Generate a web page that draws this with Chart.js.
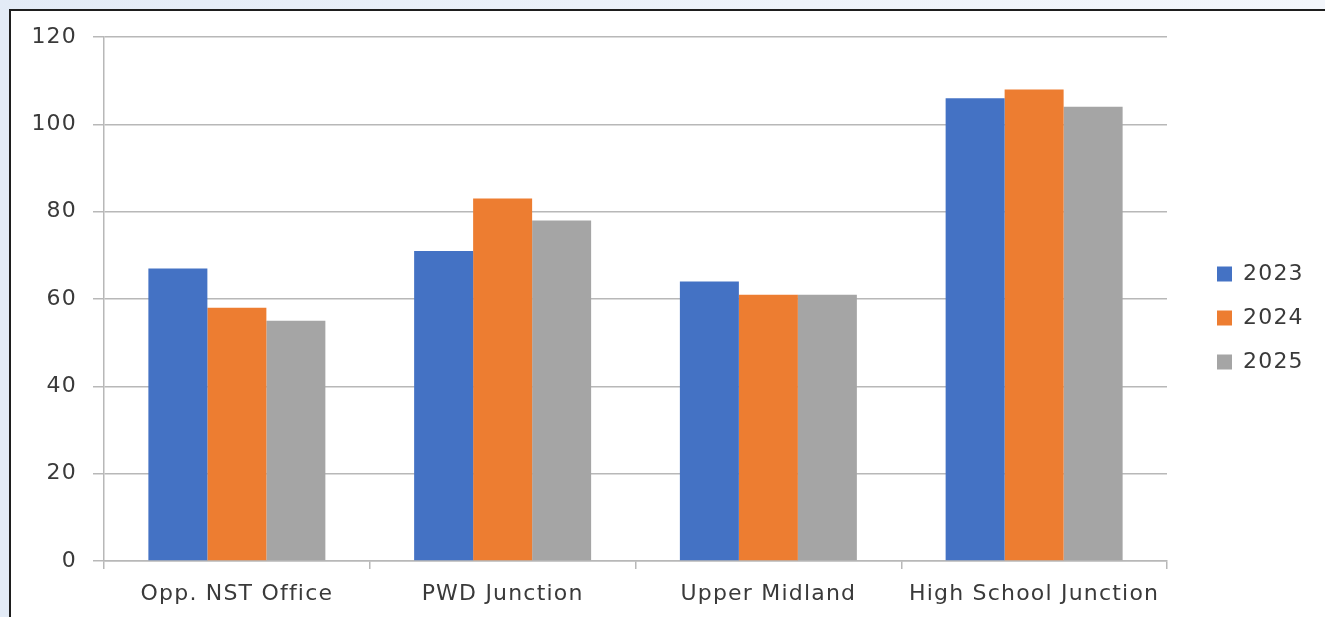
<!DOCTYPE html>
<html>
<head>
<meta charset="utf-8">
<script src="https://cdn.jsdelivr.net/npm/chart.js@4/dist/chart.umd.min.js"></script>
<style>
  html, body { margin: 0; padding: 0; }
  body {
    width: 1325px; height: 617px; overflow: hidden; position: relative;
    background: linear-gradient(90deg, #e3ebf6 0%, #eef3fa 60%, #f3f6fb 100%);
  }
  #frame {
    position: absolute; left: 9px; top: 9px; width: 1340px; height: 640px;
    background: #ffffff; border-top: 2px solid #1e1e1e; border-left: 2px solid #1e1e1e;
  }
  #chart { position: absolute; left: 0; top: 0; }
</style>
</head>
<body>
<div id="frame"></div>
<canvas id="chart" width="1325" height="617"></canvas>
<script>
// Junction readings by year
const categories = ['Opp. NST Office', 'PWD Junction', 'Upper Midland', 'High School Junction'];
const years = ['2023', '2024', '2025'];
const values2023 = [67, 71, 64, 106];
const values2024 = [58, 83, 61, 108];
const values2025 = [55, 78, 61, 104];
const yMin = 0, yMax = 120, yStep = 20;

const colors = ['#4472C4', '#ED7D31', '#A5A5A5'];
const textColor = '#3a3a3a';
const gridColor = '#b8b8b8';
const fontFamily = "'DejaVu Sans', 'Noto Sans', sans-serif";
const fontSize = 22;
const letterSpacing = '1.2px';

// slightly wider tracking for every text drawn on the canvas
const tracking = {
  id: 'tracking',
  beforeLayout(chart) { chart.ctx.letterSpacing = letterSpacing; },
  beforeDraw(chart) { chart.ctx.letterSpacing = letterSpacing; }
};

// place the legend a little further right of the plot and centred on the items
const legendOffset = {
  id: 'legendOffset',
  afterLayout(chart) {
    const lg = chart.legend;
    if (!lg) return;
    const dy = -9;
    lg.left = chart.chartArea.right + 28;
    lg.right = chart.width;
    lg.width = lg.right - lg.left;
    lg.top += dy; lg.bottom += dy;
  }
};

new Chart(document.getElementById('chart'), {
  type: 'bar',
  data: {
    labels: categories,
    datasets: [
      { label: years[0], data: values2023, backgroundColor: colors[0] },
      { label: years[1], data: values2024, backgroundColor: colors[1] },
      { label: years[2], data: values2025, backgroundColor: colors[2] }
    ]
  },
  options: {
    responsive: false,
    devicePixelRatio: 1,
    animation: false,
    datasets: { bar: { categoryPercentage: 0.666, barPercentage: 1.0 } },
    layout: { padding: { top: 37, left: 0, right: 58, bottom: 0 } },
    plugins: {
      tooltip: { enabled: false },
      legend: {
        position: 'right',
        maxWidth: 100,
        labels: {
          boxWidth: 15, boxHeight: 15, padding: 44 - fontSize,
          color: textColor,
          font: { family: fontFamily, size: fontSize }
        }
      }
    },
    scales: {
      x: {
        grid: {
          offset: true, drawOnChartArea: false, drawTicks: true,
          tickLength: 8, color: gridColor, lineWidth: 1.5
        },
        border: { color: gridColor, width: 1.5 },
        ticks: { color: textColor, padding: 12, font: { family: fontFamily, size: fontSize } },
        afterFit(scale) { scale.height = 56; }
      },
      y: {
        min: yMin, max: yMax,
        grid: { color: gridColor, lineWidth: 1.5, drawTicks: true, tickLength: 11 },
        border: { color: gridColor, width: 1.5 },
        ticks: { stepSize: yStep, color: textColor, padding: 16, font: { family: fontFamily, size: fontSize } },
        afterFit(scale) { scale.width = 104; }
      }
    }
  },
  plugins: [tracking, legendOffset]
});
</script>
</body>
</html>
